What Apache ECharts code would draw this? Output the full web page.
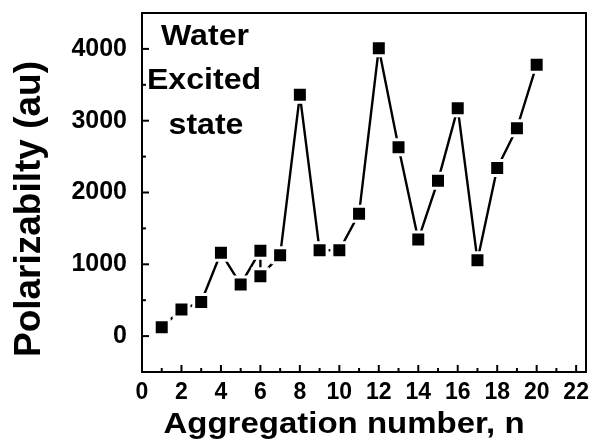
<!DOCTYPE html>
<html>
<head>
<meta charset="utf-8">
<script src="https://cdn.jsdelivr.net/npm/echarts@6/dist/echarts.min.js"></script>
<style>
  html, body { margin: 0; padding: 0; background: #ffffff; }
  #chart { width: 594px; height: 446px; }
</style>
</head>
<body>
<div id="chart"></div>
<script>
// Aggregation number n (two structures were computed for n = 6)
const aggregationNumbers = [1, 2, 3, 4, 5, 6, 6, 7, 8, 9, 10, 11, 12, 13, 14, 15, 16, 17, 18, 19, 20];
// Excited-state polarizability of water clusters (au)
const polarizability = [125, 370, 475, 1160, 720, 1190, 835, 1125, 3360, 1195, 1195, 1705, 4010, 2630, 1345, 2165, 3175, 1055, 2340, 2895, 3780];

// Tick positions
const xMajorTicks = [0, 2, 4, 6, 8, 10, 12, 14, 16, 18, 20, 22];
const xMinorTicks = [1, 3, 5, 7, 9, 11, 13, 15, 17, 19, 21];
const yMajorTicks = [0, 1000, 2000, 3000, 4000];
const yMinorTicks = [500, 1500, 2500, 3500];

const X_MIN = 0, X_MAX = 22.5, Y_MIN = -500, Y_MAX = 4500;
const MAJOR_LEN = 7, MINOR_LEN = 4;

const FONT = 'Liberation Sans, Arial, sans-serif';
const plain = v => String(v);

const chart = echarts.init(document.getElementById('chart'));

function frameLine() { return { show: true, onZero: false, lineStyle: { color: '#000', width: 2 } }; }
function xAxis(extra) {
  return Object.assign({
    type: 'value', min: X_MIN, max: X_MAX, position: 'bottom',
    axisLine: frameLine(), splitLine: { show: false }, axisLabel: { show: false }, axisTick: { show: false }
  }, extra);
}
function yAxis(extra) {
  return Object.assign({
    type: 'value', min: Y_MIN, max: Y_MAX, position: 'left',
    axisLine: frameLine(), splitLine: { show: false }, axisLabel: { show: false }, axisTick: { show: false }
  }, extra);
}

chart.setOption({
  animation: false,
  backgroundColor: '#ffffff',
  grid: { left: 142, top: 13, right: 8, bottom: 74 },
  xAxis: [
    xAxis({
      axisLabel: {
        show: true, customValues: xMajorTicks, margin: 9, formatter: plain,
        color: '#000', fontFamily: FONT, fontWeight: 'bold', fontSize: 23
      }
    }),
    xAxis({ position: 'top' })
  ],
  yAxis: [
    yAxis({
      axisLabel: {
        show: true, customValues: yMajorTicks, margin: 15, formatter: plain,
        color: '#000', fontFamily: FONT, fontWeight: 'bold', fontSize: 25
      }
    }),
    yAxis({ position: 'right' })
  ],
  series: [{
    type: 'line',
    xAxisIndex: 0,
    yAxisIndex: 0,
    data: aggregationNumbers.map((n, i) => [n, polarizability[i]]),
    symbol: 'rect',
    symbolSize: 15,
    showAllSymbol: true,
    lineStyle: { color: '#000', width: 2.4 },
    itemStyle: { color: '#000', borderColor: '#fff', borderWidth: 3 },
    emphasis: { disabled: true }
  }]
});

// Inward tick marks, positioned with the axes' own value-to-pixel mapping
const ref = { xAxisIndex: 0, yAxisIndex: 0 };
function tickLine(x1, y1, x2, y2) {
  return { type: 'line', z: 10, silent: true, shape: { x1: x1, y1: y1, x2: x2, y2: y2 }, style: { stroke: '#000', lineWidth: 2 } };
}
const tickMarks = [];
[[xMajorTicks, MAJOR_LEN], [xMinorTicks, MINOR_LEN]].forEach(([vals, len]) => {
  vals.forEach(v => {
    const p = chart.convertToPixel(ref, [v, Y_MIN]);
    tickMarks.push(tickLine(p[0], p[1], p[0], p[1] - len));
  });
});
[[yMajorTicks, MAJOR_LEN], [yMinorTicks, MINOR_LEN]].forEach(([vals, len]) => {
  vals.forEach(v => {
    const p = chart.convertToPixel(ref, [X_MIN, v]);
    tickMarks.push(tickLine(p[0], p[1], p[0] + len, p[1]));
  });
});

const labels = [
  { type: 'text', x: 205, y: 52, scaleX: 1.07,
    style: { text: 'Water', fill: '#000', font: 'bold 30px ' + FONT, textAlign: 'center', textVerticalAlign: 'bottom' } },
  { type: 'text', x: 204, y: 96, scaleX: 1.07,
    style: { text: 'Excited', fill: '#000', font: 'bold 30px ' + FONT, textAlign: 'center', textVerticalAlign: 'bottom' } },
  { type: 'text', x: 206, y: 141, scaleX: 1.07,
    style: { text: 'state', fill: '#000', font: 'bold 30px ' + FONT, textAlign: 'center', textVerticalAlign: 'bottom' } },
  { type: 'text', x: 30, y: 209, rotation: Math.PI / 2,
    style: { text: 'Polarizabilty (au)', fill: '#000', font: 'bold 37px ' + FONT, textAlign: 'center', textVerticalAlign: 'middle' } },
  { type: 'text', x: 344, y: 425, scaleX: 1.1,
    style: { text: 'Aggregation number, n', fill: '#000', font: 'bold 30px ' + FONT, textAlign: 'center', textVerticalAlign: 'middle' } }
];

chart.setOption({ graphic: labels.concat(tickMarks) });
</script>
</body>
</html>
